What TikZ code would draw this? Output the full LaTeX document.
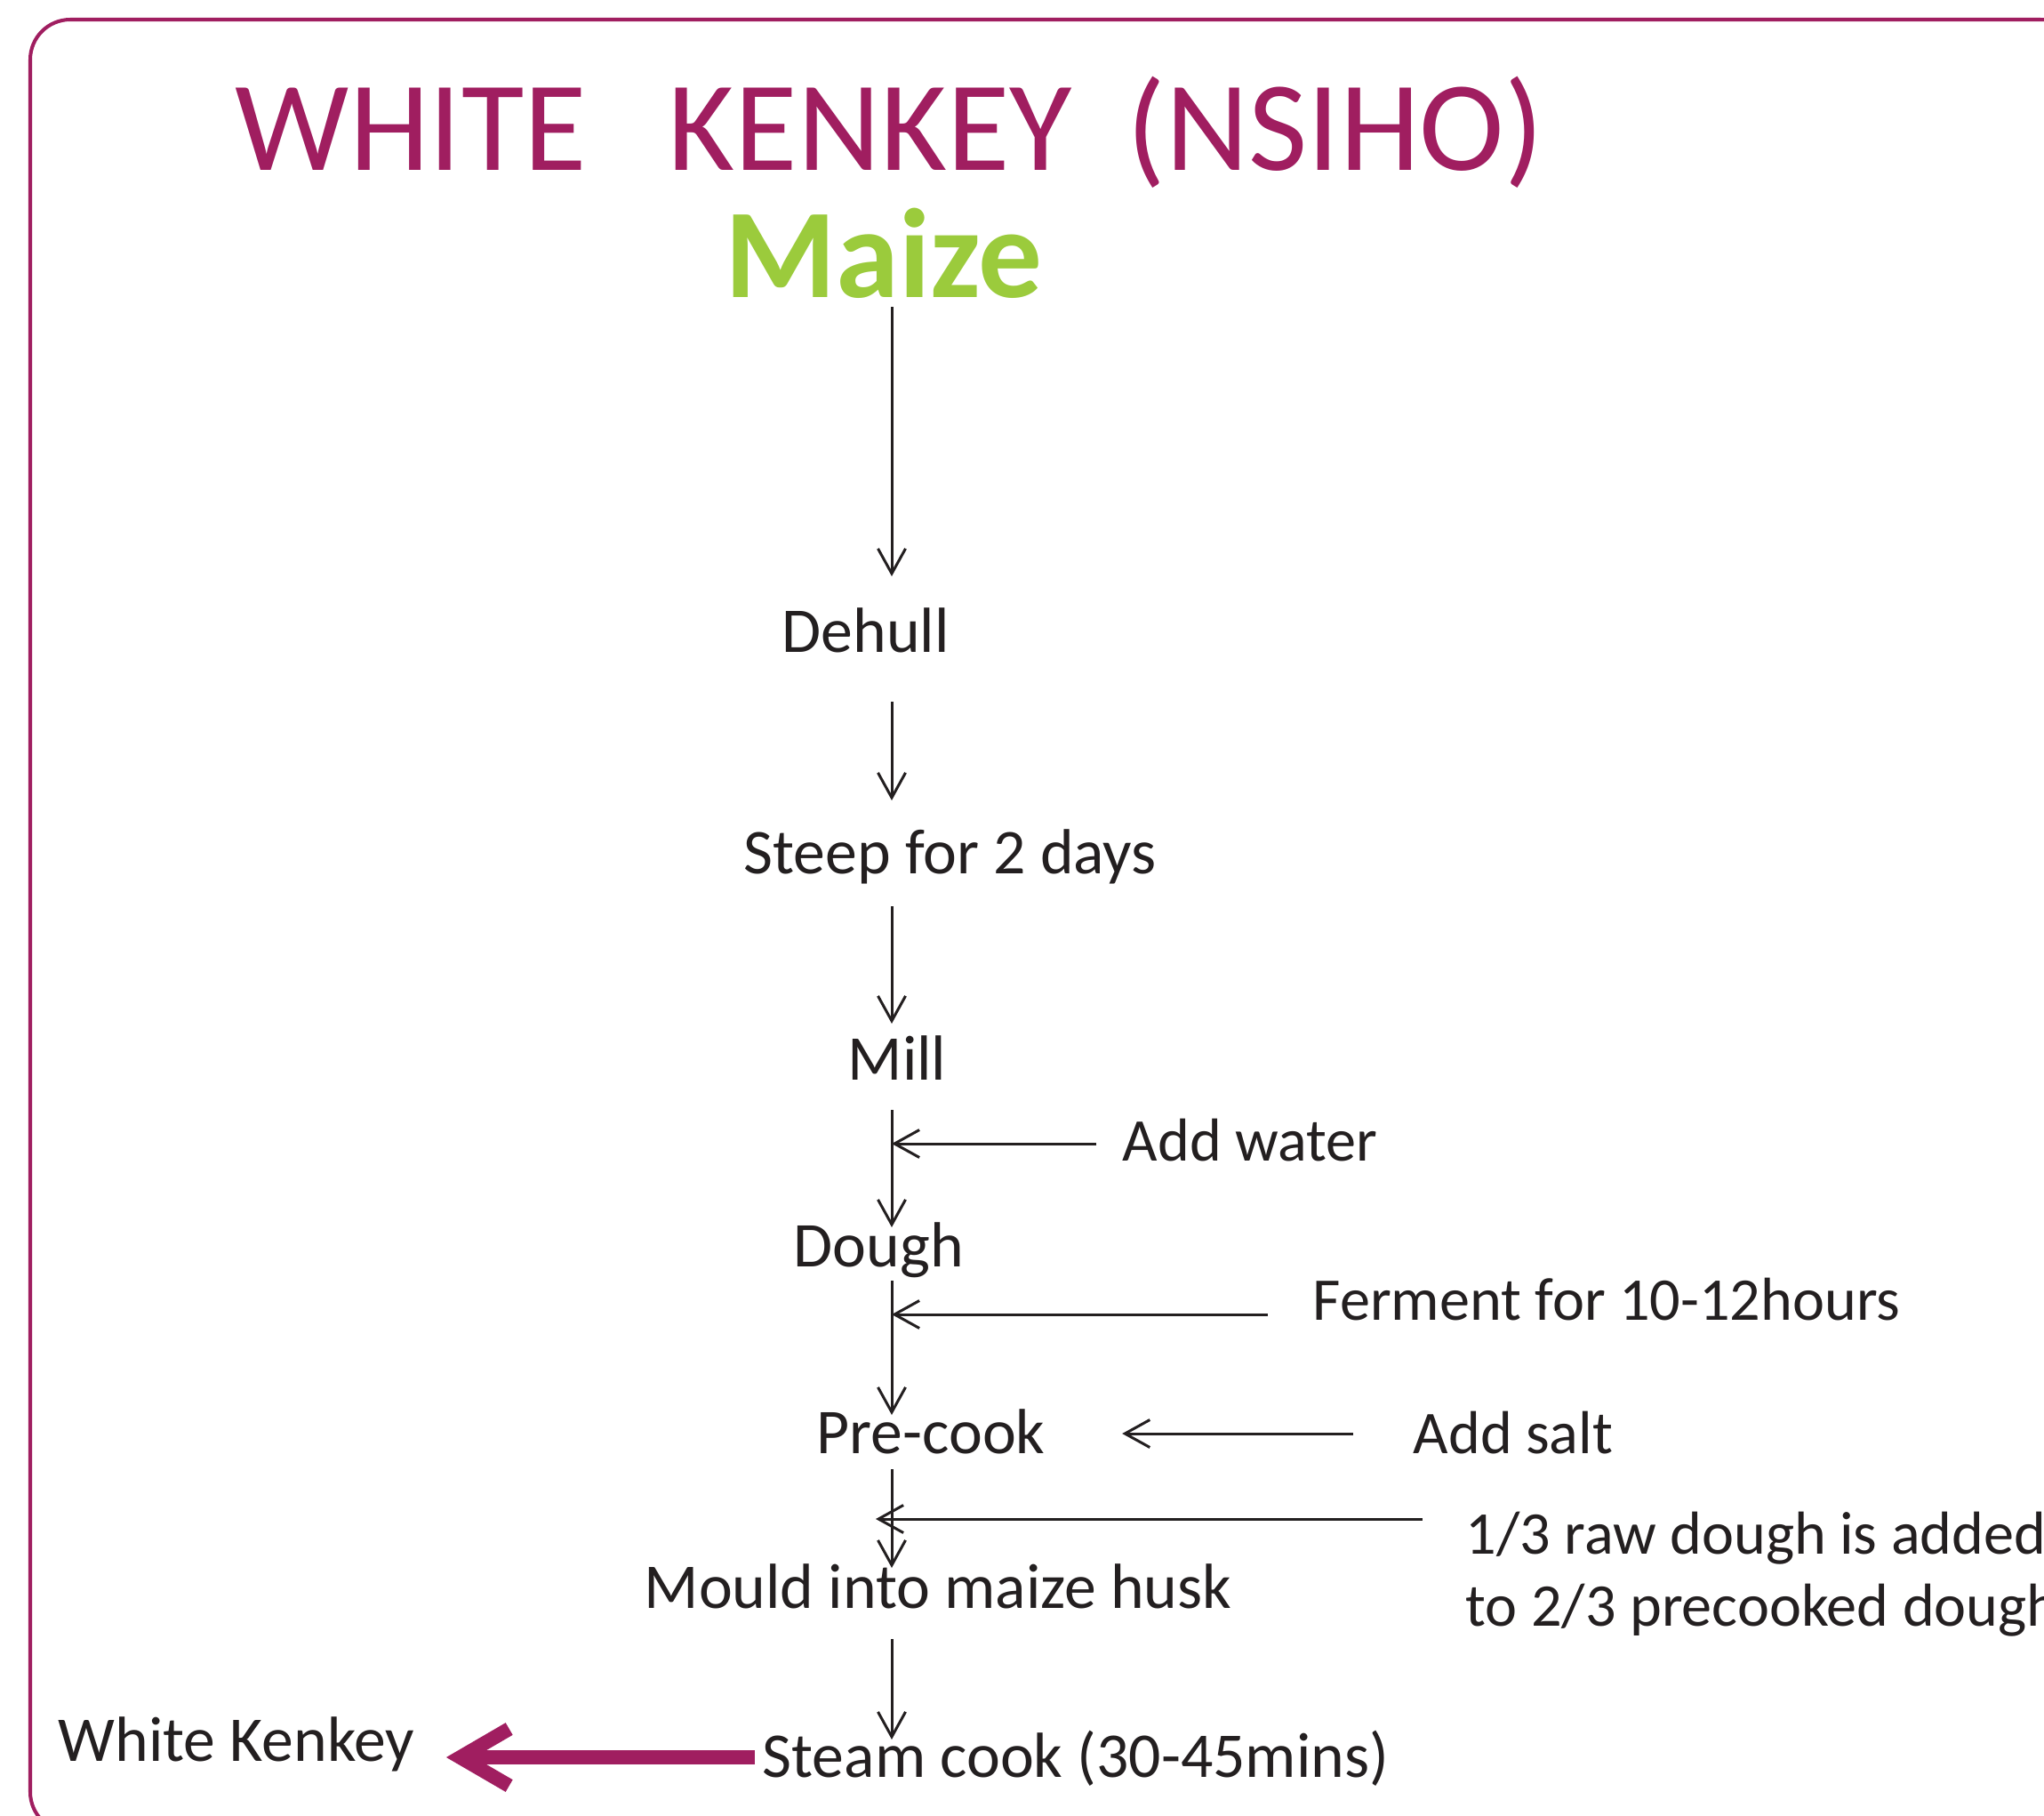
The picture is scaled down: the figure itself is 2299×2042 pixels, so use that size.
\documentclass[tikz,border=0pt]{standalone}
\usepackage{fontspec}
\setmainfont{Carlito}
\usetikzlibrary{arrows.meta,calc}
\definecolor{kmag}{RGB}{160,30,96}
\definecolor{kgreen}{RGB}{155,203,60}
\definecolor{ktext}{RGB}{35,31,32}
\begin{document}
\begin{tikzpicture}[x=0.01cm,y=-0.01cm,
  lbl/.style={anchor=base west, inner sep=0, text=ktext, font=\fontsize{20.4}{24}\selectfont},
  side/.style={lbl, font=\fontsize{19.4}{23}\selectfont},
  flow/.style={draw=ktext, line width=0.85pt, -{Straight Barb[length=0.28cm,width=0.31cm]}},
  bigflow/.style={draw=kmag, line width=4.5pt, -{Straight Barb[length=0.55cm,width=0.64cm]}},
  frame/.style={draw=kmag, line width=1.15pt, rounded corners=0.45cm}
]
\useasboundingbox (0,0) rectangle (2299,2042);
\clip (0,0) rectangle (2299,2042);
\draw[frame] (34,22) rectangle (2340,2060);
\coordinate (spine) at (1003,0);

\node[lbl, text=kmag, font=\fontsize{41}{48}\selectfont] (title) at (264,191) {WHITE\hspace{0.92cm}KENKEY\hspace{0.62cm}(NSIHO)};
\node[lbl, text=kgreen, font=\fontsize{40.7}{48}\selectfont\bfseries] (maize) at (815,334) {Maize};
\node[lbl] (dehull) at (879,733) {Dehull};
\node[lbl] (steep) at (836,982) {Steep for 2 days};
\node[lbl] (mill) at (953,1214) {Mill};
\node[side] (water) at (1262,1305) {Add water};
\node[lbl] (dough) at (892,1424) {Dough};
\node[side] (ferment) at (1476,1484) {Ferment for 10-12hours};
\node[lbl] (precook) at (918,1634) {Pre-cook};
\node[side] (salt) at (1589,1634) {Add salt};
\node[side] (raw1) at (1648,1747) {1/3 raw dough is added};
\node[side] (raw2) at (1648,1828) {to 2/3 precooked dough};
\node[lbl] (mould) at (724,1808) {Mould into maize husk};
\node[lbl] (steam) at (857,1998) {Steam cook (30-45mins)};
\node[lbl] (kenkey) at (65,1980) {White Kenkey};

\draw[flow] ($(maize.base-|spine)+(0,11)$) -- ($(dehull.base-|spine)+(0,-85)$);
\draw[flow] ($(dehull.base-|spine)+(0,56)$) -- ($(steep.base-|spine)+(0,-82)$);
\draw[flow] ($(steep.base-|spine)+(0,37)$) -- ($(mill.base-|spine)+(0,-63)$);
\draw[flow] ($(mill.base-|spine)+(0,34)$) -- ($(dough.base-|spine)+(0,-44)$);
\draw[flow] ($(dough.base-|spine)+(0,16)$) -- ($(precook.base-|spine)+(0,-43)$);
\draw[flow] ($(precook.base-|spine)+(0,18)$) -- ($(mould.base-|spine)+(0,-45)$);
\draw[flow] ($(mould.base-|spine)+(0,35)$) -- ($(steam.base-|spine)+(0,-42)$);

\coordinate (wS) at ($(water.base west)+(-29,-19)$);
\draw[flow] (wS) -- (wS-|spine);
\coordinate (fS) at ($(ferment.base west)+(-50,-6)$);
\draw[flow] (fS) -- (fS-|spine);
\coordinate (sS) at ($(salt.base west)+(-67,-22)$);
\draw[flow] (sS) -- ($(sS-|precook.base east)+(86,0)$);
\coordinate (rS) at ($(raw1.base west)+(-48,-39)$);
\draw[flow] (rS) -- ($(rS-|spine)+(-18,0)$);
\coordinate (bS) at ($(steam.base west)+(-8,-22)$);
\draw[bigflow] (bS) -- ($(bS-|kenkey.base east)+(35,0)$);
\end{tikzpicture}
\end{document}
